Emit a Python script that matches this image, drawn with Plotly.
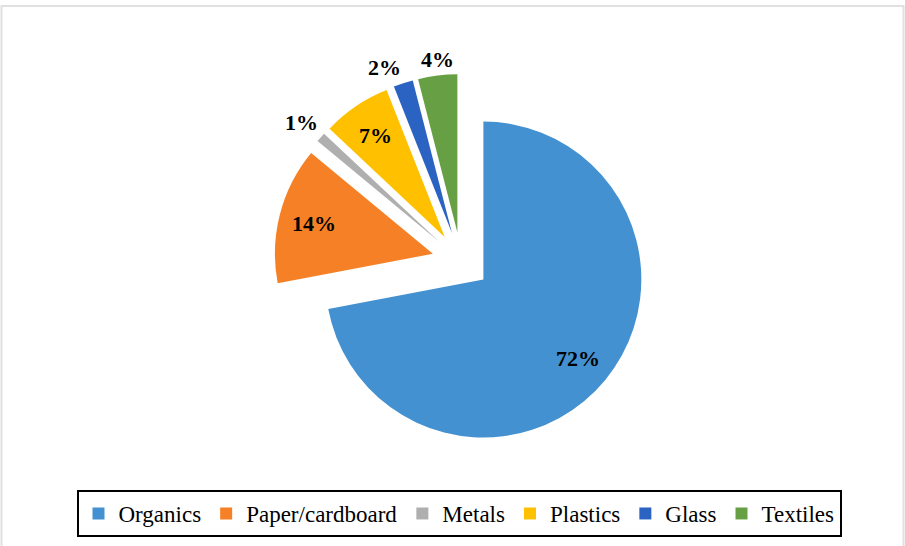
import math
import plotly.graph_objects as go

labels = ["Organics", "Paper/cardboard", "Metals", "Plastics", "Glass", "Textiles"]
values = [72, 14, 1, 7, 2, 4]
colors = ["#4391D0", "#F58025", "#AFAFAF", "#FFC000", "#2B63C3", "#67A044"]
label_inside = [True, True, False, True, False, False]

W, H = 905, 546
PULL = 0.184
DOM_X = [274 / W, 648 / W]
DOM_Y = [1 - 448 / H, 1 - 74 / H]
LABEL_FONT = dict(family="Liberation Serif", size=22, color="black", weight="bold")

fig = go.Figure(go.Pie(
    labels=labels,
    values=values,
    sort=False,
    direction="clockwise",
    rotation=0,
    pull=[PULL] * len(values),
    marker=dict(colors=colors, line=dict(width=0)),
    textinfo="none",
    domain=dict(x=DOM_X, y=DOM_Y),
    automargin=False,
    hoverinfo="label+percent",
))

# Percent labels positioned from the data (slice bisectors)
total = sum(values)
size_px = min((DOM_X[1] - DOM_X[0]) * W, (DOM_Y[1] - DOM_Y[0]) * H)
r_px = size_px / 2 / (1 + PULL)
cx = (DOM_X[0] + DOM_X[1]) / 2 * W
cy = (1 - (DOM_Y[0] + DOM_Y[1]) / 2) * H
cum = 0.0
for lab, v, inside in zip(labels, values, label_inside):
    mid = (cum + v / 2) / total * 2 * math.pi  # clockwise from top
    cum += v
    dx, dy = math.sin(mid), -math.cos(mid)
    apx = cx + dx * r_px * PULL
    apy = cy + dy * r_px * PULL
    txt = f"{round(v / total * 100)}%"
    if inside:
        px = apx + dx * r_px * 0.78
        py = apy + dy * r_px * 0.78
        xa, ya = "center", "middle"
    else:
        px = apx + dx * (r_px + 1)
        py = apy + dy * (r_px + 1)
        xa = "center" if abs(dx) < 0.2 else ("right" if dx < 0 else "left")
        ya = "bottom" if dy < 0 else "top"
    fig.add_annotation(
        x=px / W, y=1 - py / H, xref="paper", yref="paper",
        text=txt, showarrow=False, font=LABEL_FONT,
        xanchor=xa, yanchor=ya,
    )

fig.update_layout(
    width=W,
    height=H,
    margin=dict(l=0, r=0, t=0, b=0, autoexpand=False),
    paper_bgcolor="white",
    plot_bgcolor="white",
    showlegend=True,
    legend=dict(
        orientation="h",
        x=459 / W,
        xanchor="center",
        y=1 - 490 / H,
        yanchor="top",
        font=dict(family="Liberation Serif", size=23, color="black"),
        bordercolor="black",
        borderwidth=2,
        bgcolor="white",
        traceorder="normal",
    ),
    shapes=[
        dict(type="rect", xref="paper", yref="paper",
             x0=1.5 / W, x1=1 - 1.5 / W, y0=-0.01, y1=1 - 6 / H,
             line=dict(color="#E0E0E0", width=2), layer="below"),
    ],
)

fig.write_html("out.html")
